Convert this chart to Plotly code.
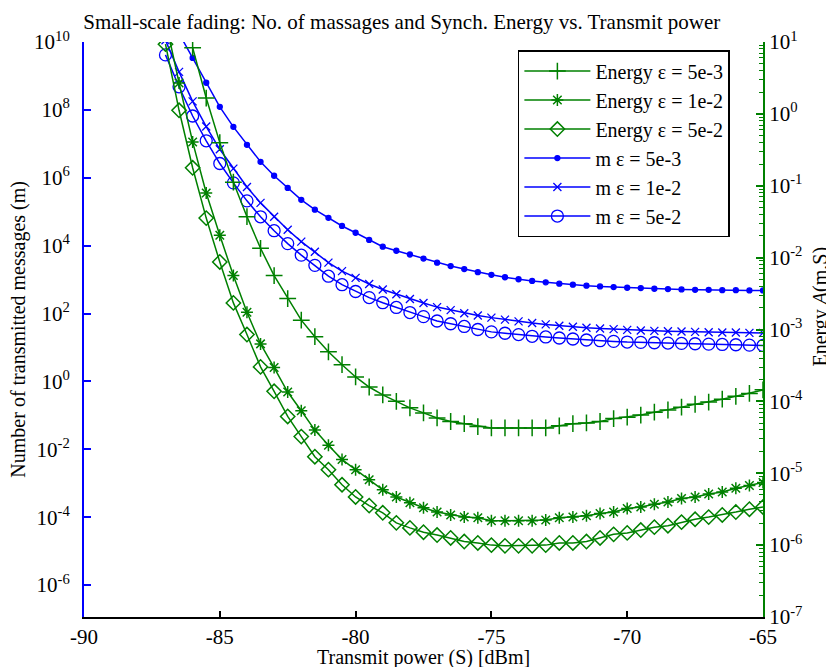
import plotly.graph_objects as go

# Transmit power grid [dBm]
x_power = [-87.0, -86.5, -86.0, -85.5, -85.0, -84.5, -84.0, -83.5, -83.0, -82.5,
           -82.0, -81.5, -81.0, -80.5, -80.0, -79.5, -79.0, -78.5, -78.0, -77.5,
           -77.0, -76.5, -76.0, -75.5, -75.0, -74.5, -74.0, -73.5, -73.0, -72.5,
           -72.0, -71.5, -71.0, -70.5, -70.0, -69.5, -69.0, -68.5, -68.0, -67.5,
           -67.0, -66.5, -66.0, -65.5, -65.0]

# log10 of values
# Number of transmitted messages (left axis)
m_5e3_log = [10.25, 9.53, 8.80, 8.09, 7.50, 6.97, 6.47, 6.06, 5.70, 5.35, 5.06, 4.82,
             4.58, 4.38, 4.17, 3.97, 3.85, 3.74, 3.62, 3.50, 3.40, 3.31, 3.22, 3.14,
             3.07, 3.01, 2.96, 2.92, 2.88, 2.85, 2.82, 2.80, 2.78, 2.76, 2.75, 2.73,
             2.72, 2.71, 2.70, 2.70, 2.69, 2.69, 2.68, 2.68]            # from -86.5
m_1e2_log = [10.05, 9.12, 8.25, 7.51, 6.84, 6.27, 5.73, 5.26, 4.85, 4.47, 4.12, 3.82,
             3.50, 3.25, 3.05, 2.87, 2.71, 2.57, 2.43, 2.31, 2.19, 2.10, 2.01, 1.94,
             1.88, 1.82, 1.77, 1.72, 1.68, 1.64, 1.61, 1.58, 1.56, 1.54, 1.52, 1.50,
             1.49, 1.48, 1.47, 1.46, 1.45, 1.44, 1.44, 1.43, 1.43]      # from -87
m_5e2_log = [9.62, 8.68, 7.82, 7.09, 6.42, 5.85, 5.32, 4.85, 4.44, 4.06, 3.72, 3.42,
             3.10, 2.85, 2.65, 2.47, 2.32, 2.18, 2.03, 1.91, 1.78, 1.70, 1.62, 1.53,
             1.46, 1.42, 1.38, 1.33, 1.31, 1.28, 1.25, 1.22, 1.20, 1.18, 1.16, 1.15,
             1.14, 1.13, 1.12, 1.11, 1.10, 1.09, 1.08, 1.07, 1.06]      # from -87

# Synchronisation energy (right axis)
e_5e3_log = [0.92, 0.22, -0.40, -0.95, -1.43, -1.87, -2.25, -2.57, -2.87, -3.10, -3.31,
             -3.49, -3.66, -3.80, -3.91, -4.00, -4.09, -4.16, -4.23, -4.28, -4.31,
             -4.35, -4.37, -4.37, -4.37, -4.37, -4.37, -4.34, -4.31, -4.30, -4.28,
             -4.24, -4.22, -4.19, -4.15, -4.12, -4.08, -4.04, -4.01, -3.97, -3.93,
             -3.89, -3.84]                                              # from -86
e_1e2_log = [1.30, 0.43, -0.39, -1.10, -1.69, -2.25, -2.76, -3.20, -3.53, -3.87, -4.13,
             -4.40, -4.61, -4.81, -4.95, -5.09, -5.23, -5.33, -5.41, -5.48, -5.54,
             -5.58, -5.61, -5.62, -5.66, -5.66, -5.66, -5.66, -5.65, -5.62, -5.61,
             -5.59, -5.56, -5.54, -5.49, -5.47, -5.43, -5.40, -5.35, -5.33, -5.29,
             -5.26, -5.21, -5.17, -5.13]                                # from -87
e_5e2_log = [0.97, 0.05, -0.75, -1.45, -2.06, -2.63, -3.07, -3.52, -3.86, -4.21, -4.49,
             -4.77, -4.95, -5.16, -5.33, -5.45, -5.55, -5.69, -5.76, -5.82, -5.86,
             -5.90, -5.95, -5.97, -6.00, -6.01, -6.01, -6.01, -6.00, -5.97, -5.97,
             -5.95, -5.90, -5.85, -5.83, -5.79, -5.75, -5.73, -5.68, -5.64, -5.61,
             -5.58, -5.54, -5.50, -5.47]                                # from -87

left_tick_exp = [10, 8, 6, 4, 2, 0, -2, -4, -6]
right_tick_exp = [1, 0, -1, -2, -3, -4, -5, -6, -7]
x_ticks = [-90, -85, -80, -75, -70, -65]


def vals(logs):
    return [10 ** v for v in logs]


GREEN = "#008000"
BLUE = "#0000ff"
FONT = "Liberation Serif, Times New Roman, serif"
LW = 1.5

fig = go.Figure()

energy = [
    ("Energy ε = 5e-3", x_power[2:], e_5e3_log, "cross-thin-open", 12),
    ("Energy ε = 1e-2", x_power, e_1e2_log, "asterisk-open", 10),
    ("Energy ε = 5e-2", x_power, e_5e2_log, "diamond-open", 11),
]
for name, xs, ys, sym, sz in energy:
    fig.add_trace(go.Scatter(
        x=xs, y=vals(ys), name=name, yaxis="y2", mode="lines+markers",
        line=dict(color=GREEN, width=LW),
        marker=dict(symbol=sym, size=sz, color=GREEN, line=dict(color=GREEN, width=1.5)),
    ))

msgs = [
    ("m ε = 5e-3", x_power[1:], m_5e3_log, "circle", 5),
    ("m ε = 1e-2", x_power, m_1e2_log, "x-thin-open", 8),
    ("m ε = 5e-2", x_power, m_5e2_log, "circle-open", 12),
]
for name, xs, ys, sym, sz in msgs:
    fig.add_trace(go.Scatter(
        x=xs, y=vals(ys), name=name, yaxis="y", mode="lines+markers",
        line=dict(color=BLUE, width=LW),
        marker=dict(symbol=sym, size=sz, color=BLUE, line=dict(color=BLUE, width=1.3)),
    ))

minor_right = [k * 10.0 ** d for d in range(-7, 1) for k in range(2, 10)]

# The page body adds an 8 px offset, so the figure is 8 px smaller and shifted.
fig.update_layout(
    width=826, height=659,
    margin=dict(l=76, r=71, t=34, b=50, autoexpand=False),
    paper_bgcolor="white", plot_bgcolor="white",
    font=dict(family=FONT, size=20, color="black"),
    title=dict(text="Small-scale fading: No. of massages and Synch. Energy vs. Transmit power",
               x=0.468, xref="paper", xanchor="center", y=0.980, yref="container",
               yanchor="middle", font=dict(family=FONT, size=21, color="black")),
    showlegend=True,
    legend=dict(x=0.639, y=0.986, xanchor="left", yanchor="top",
                bgcolor="white", bordercolor="black", borderwidth=1.5,
                font=dict(family=FONT, size=20), itemwidth=66,
                tracegroupgap=0),
    xaxis=dict(range=[-90, -65], tickvals=x_ticks, ticktext=[str(v) for v in x_ticks],
               ticks="inside", ticklen=6, tickcolor="black", tickwidth=1.5,
               showline=True, linecolor="black", linewidth=2, showgrid=False,
               zeroline=False, tickfont=dict(family=FONT, size=21), automargin=False),
    yaxis=dict(type="log", range=[-6.94, 10],
               tickvals=[10.0 ** e for e in left_tick_exp],
               ticktext=["10<sup>%d</sup>" % e for e in left_tick_exp],
               ticks="inside", ticklen=7, tickcolor=BLUE, tickwidth=1.5,
               showline=True, linecolor=BLUE, linewidth=2, showgrid=False,
               zeroline=False, tickfont=dict(family=FONT, size=21, color="black"),
               ticklabelstandoff=8, automargin=False),
    yaxis2=dict(type="log", range=[-7, 1], overlaying="y", side="right",
                tickvals=[10.0 ** e for e in right_tick_exp],
                ticktext=["10<sup>%d</sup>" % e for e in right_tick_exp],
                ticks="inside", ticklen=7, tickcolor=GREEN, tickwidth=1.5,
                minor=dict(tickvals=minor_right, ticks="inside", ticklen=4,
                           tickcolor=GREEN, tickwidth=1.2),
                showline=True, linecolor=GREEN, linewidth=2, showgrid=False,
                zeroline=False, tickfont=dict(family=FONT, size=21, color="black"),
                automargin=False),
    annotations=[
        dict(text="Transmit power (S) [dBm]",
             xref="paper", yref="paper", x=0.5, y=-0.0713,
             xanchor="center", yanchor="middle", showarrow=False,
             font=dict(family=FONT, size=20, color="black")),
        dict(text="Number of transmitted messages (m)", textangle=-90,
             xref="paper", yref="paper", x=-0.097, y=0.5,
             xanchor="center", yanchor="middle", showarrow=False,
             font=dict(family=FONT, size=20, color="black")),
        dict(text="Energy <i>A</i>(m,S)", textangle=-90,
             xref="paper", yref="paper", x=1.084, y=0.54,
             xanchor="center", yanchor="middle", showarrow=False,
             font=dict(family=FONT, size=20, color="black")),
    ],
)

fig.write_html("out.html")
